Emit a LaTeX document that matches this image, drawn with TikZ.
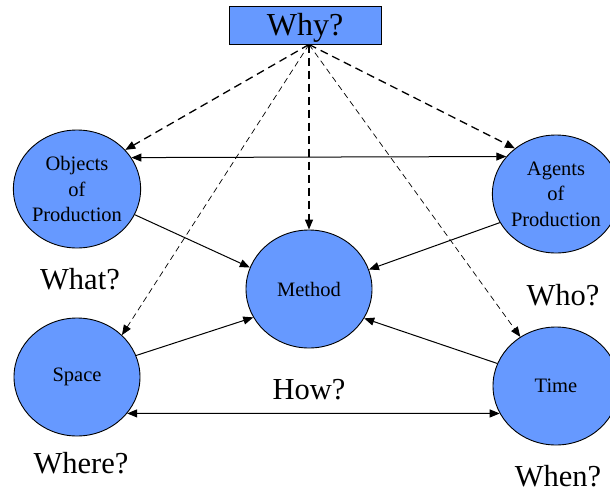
\documentclass[tikz,border=0pt]{standalone}
\usepackage{fontspec}
\setmainfont{Liberation Serif}
\usetikzlibrary{arrows.meta,shapes.geometric}
\definecolor{nodeblue}{RGB}{102,153,255}

\begin{document}
\begin{tikzpicture}[x=1pt,y=-1pt,  % pixel-like units, y going down
    >={Triangle[length=10pt,width=8pt]},
    topic/.style={ellipse,draw,fill=nodeblue,line width=0.9pt,minimum width=126pt,
        minimum height=118pt,inner sep=0pt,align=center,
        font=\fontsize{20.5}{25.5}\selectfont},
    question/.style={inner sep=1pt,font=\fontsize{30.5}{36}\selectfont},
    link/.style={line width=1pt,->},
    bigdash/.style={link,line width=1.3pt,dash pattern=on 8pt off 5pt},
    smalldash/.style={link,line width=0.7pt,dash pattern=on 6pt off 4pt}]
    % Fix the page size
    \useasboundingbox (0,0) rectangle (610,493);

    % Draw the top box
    \node[draw,fill=nodeblue,line width=1pt,minimum width=152pt,minimum height=38pt,
        text depth=2pt,font=\fontsize{32}{36}\selectfont] (why) at (305,25) {Why?};
    \coordinate (apex) at ([xshift=4pt]why.south);

    % Draw the five topics
    \node[topic] (objects) at (77,189) {Objects\\of\\Production};
    \node[topic] (agents) at (556,194) {Agents\\of\\Production};
    \node[topic] (method) at (309,289) {Method};
    \node[topic] (space) at (77,377) {Space};
    \node[topic] (time) at (556,386) {Time};

    % Draw the questions
    \node[question] (what) at (80,279) {What?};
    \node[question] (who) at (563,295) {Who?};
    \node[question] (how) at (309,390) {How?};
    \node[question] (where) at (81,463) {Where?};
    \node[question] (when) at (558,476) {When?};

    % Draw the dashed arrows from the top box
    \foreach \target/\ang in {objects/39, agents/132, method/90}
        \draw[bigdash] (apex) -- (\target.\ang);
    \foreach \target/\ang in {space/43, time/126}
        \draw[smalldash] (apex) -- (\target.\ang);

    % Draw the solid arrows
    \draw[link,<->] (objects.30) -- (agents.143);
    \draw[link] (objects.336) -- (method.160);
    \draw[link] (agents.207) -- (method.18);
    \draw[link] (space.20) -- (method.207);
    \draw[link] (time.159) -- (method.332);
    \draw[link,<->] (space.324) -- (time.206);

\end{tikzpicture}
\end{document}
